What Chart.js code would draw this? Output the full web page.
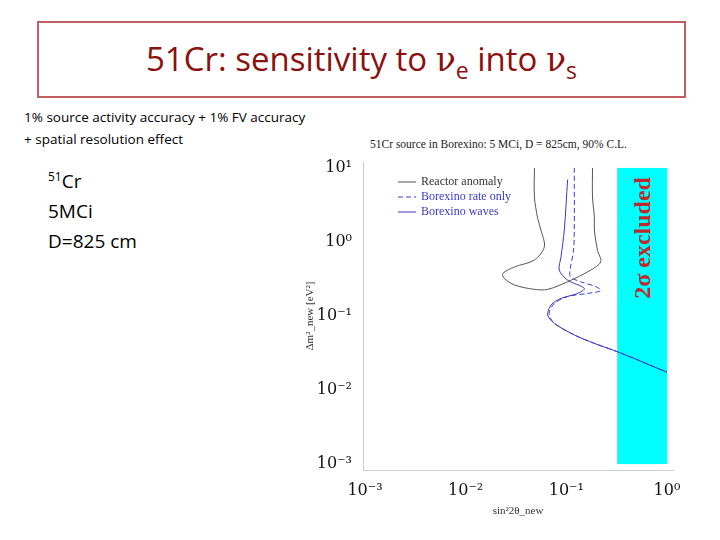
<!DOCTYPE html>
<html><head><meta charset="utf-8">
<script src="https://cdn.jsdelivr.net/npm/chart.js@4.4.0/dist/chart.umd.min.js"></script>
<style>
body{margin:0;width:720px;height:540px;position:relative;background:#fff;font-family:"Open Sans",Lato,sans-serif;overflow:hidden}
#c{position:absolute;left:0;top:0}
.t{position:absolute;white-space:nowrap}
</style></head><body>
<div class="t" style="left:37px;top:21px;width:645px;height:73px;border:2px solid #c06060;"></div>
<div class="t" style="left:37px;top:36px;width:649px;text-align:center;font-size:33px;color:#8b1010;">51Cr: sensitivity to <span style="font-family:'DejaVu Serif';">ν</span><sub style="font-size:23px">e</sub> into <span style="font-family:'DejaVu Serif';">ν</span><sub style="font-size:23px">s</sub></div>
<div class="t" style="left:24px;top:108px;font-size:13.5px;">1% source activity accuracy + 1% FV accuracy</div>
<div class="t" style="left:24px;top:130px;font-size:13.5px;">+ spatial resolution effect</div>
<div class="t" style="left:48px;top:162px;font-size:19px;line-height:30px;"><sup style="font-size:12px">51</sup>Cr<br>5MCi<br>D=825 cm</div>
<div class="t" style="left:370px;top:138px;font-size:11.5px;font-family:'Liberation Serif';color:#222;">51Cr source in Borexino: 5 MCi, D = 825cm, 90% C.L.</div>
<canvas id="c" width="720" height="540"></canvas>
<script>
// Curves (x = sin^2 2theta, y = dm^2 in eV^2)
const reactorX = [0.0482,0.0482,0.052,0.056,0.0605,0.0482,0.0306,0.0234,0.0242,0.0306,0.0482,0.0653,0.103,0.175,0.22,0.204,0.19,0.19,0.182,0.182];
const reactorY = [10,4.06,2.07,1.45,0.86,0.57,0.46,0.376,0.322,0.262,0.229,0.229,0.29,0.417,0.54,0.776,1.45,2.18,4.06,10];
const rateX = [0.12,0.12,0.118,0.109,0.11,0.139,0.197,0.22,0.163,0.103,0.076,0.0675,0.076,0.12,0.189,0.34,1.0];
const rateY = [10,1.45,0.776,0.417,0.338,0.29,0.249,0.22,0.202,0.183,0.148,0.108,0.0796,0.0555,0.0428,0.032,0.0174];
const wavesX = [0.103,0.0955,0.0886,0.085,0.103,0.151,0.13,0.0886,0.0705,0.0653,0.076,0.12,0.189,0.34,1.0];
const wavesY = [6.96,1.45,0.63,0.417,0.305,0.236,0.202,0.173,0.141,0.103,0.0796,0.0555,0.0428,0.032,0.0174];
const excludedBox = [0.32, 1.0, 0.001, 10]; // xmin, xmax, ymin, ymax
const decadeTicks = [-3, -2, -1, 0, 1];
const sup = {'-':'⁻','0':'⁰','1':'¹','2':'²','3':'³'};

function pts(xs, ys) { return xs.map((x, i) => ({x: x, y: ys[i]})); }
function tickLabel(v) {
    const e = Math.round(Math.log10(v));
    return '10' + String(e).split('').map(c => sup[c]).join('');
}

const boxPlugin = {
    id: 'box',
    beforeDatasetsDraw(chart) {
        const {ctx, scales: {x, y}} = chart;
        const l = x.getPixelForValue(excludedBox[0]), r = x.getPixelForValue(excludedBox[1]);
        const b = y.getPixelForValue(excludedBox[2]), t = y.getPixelForValue(excludedBox[3]);
        ctx.save();
        ctx.fillStyle = '#00ffff';
        ctx.fillRect(l, t, r - l, b - t);
        ctx.translate((l + r) / 2 + 2, t + 70);
        ctx.rotate(-Math.PI / 2);
        ctx.fillStyle = '#c0282a';
        ctx.font = 'bold 24px "Liberation Serif"';
        ctx.textAlign = 'center';
        ctx.textBaseline = 'middle';
        ctx.fillText('2σ excluded', 0, 0);
        ctx.restore();
    },
    afterDatasetsDraw(chart) {
        const {ctx, chartArea: a} = chart;
        ctx.save();
        ctx.font = '12px "Liberation Serif"';
        ctx.textBaseline = 'middle';
        chart.data.datasets.forEach((ds, i) => {
            const yy = a.top + 20 + i * 15;
            ctx.strokeStyle = ds.borderColor;
            ctx.lineWidth = 1;
            ctx.setLineDash(ds.borderDash || []);
            ctx.beginPath(); ctx.moveTo(a.left + 35, yy); ctx.lineTo(a.left + 53, yy); ctx.stroke();
            ctx.fillStyle = ds.labelColor;
            ctx.fillText(ds.label, a.left + 58, yy);
        });
        ctx.restore();
    }
};

new Chart(document.getElementById('c'), {
    type: 'scatter',
    data: {datasets: [
        {label: 'Reactor anomaly', data: pts(reactorX, reactorY), borderColor: '#555', labelColor: '#333'},
        {label: 'Borexino rate only', data: pts(rateX, rateY), borderColor: '#3a3acc', borderDash: [5, 3], labelColor: '#3a3acc'},
        {label: 'Borexino waves', data: pts(wavesX, wavesY), borderColor: '#3a3ab8', labelColor: '#3a3ab8'}
    ].map(d => Object.assign(d, {showLine: true, pointRadius: 0, borderWidth: 1, tension: 0.3}))},
    options: {
        responsive: false, animation: false,
        layout: {padding: {left: 300, top: 162, right: 47, bottom: 18}},
        plugins: {legend: {display: false}, tooltip: {enabled: false}},
        scales: {
            x: {
                type: 'logarithmic', min: Math.pow(10, -3.02), max: Math.pow(10, 0.06),
                afterBuildTicks: s => { s.ticks = decadeTicks.slice(0, 4).map(e => ({value: Math.pow(10, e)})); },
                afterFit: s => { s.height = 52; },
                ticks: {callback: tickLabel, color: '#111', font: {family: 'DejaVu Serif', size: 16}, maxRotation: 0},
                grid: {display: false, drawTicks: true},
                border: {color: '#ccc'},
                title: {display: true, text: 'sin²2θ_new', color: '#333', font: {family: 'Liberation Serif', size: 11}}
            },
            y: {
                type: 'logarithmic', min: Math.pow(10, -3.08), max: Math.pow(10, 1.08),
                afterBuildTicks: s => { s.ticks = decadeTicks.map(e => ({value: Math.pow(10, e)})); },
                afterFit: s => { s.width = 63; },
                ticks: {callback: tickLabel, color: '#111', font: {family: 'DejaVu Serif', size: 16}},
                grid: {display: false},
                border: {color: '#ccc'},
                title: {display: true, text: 'Δm²_new [eV²]', color: '#333', font: {family: 'Liberation Serif', size: 11}}
            }
        }
    },
    plugins: [boxPlugin]
});
</script>
</body></html>
